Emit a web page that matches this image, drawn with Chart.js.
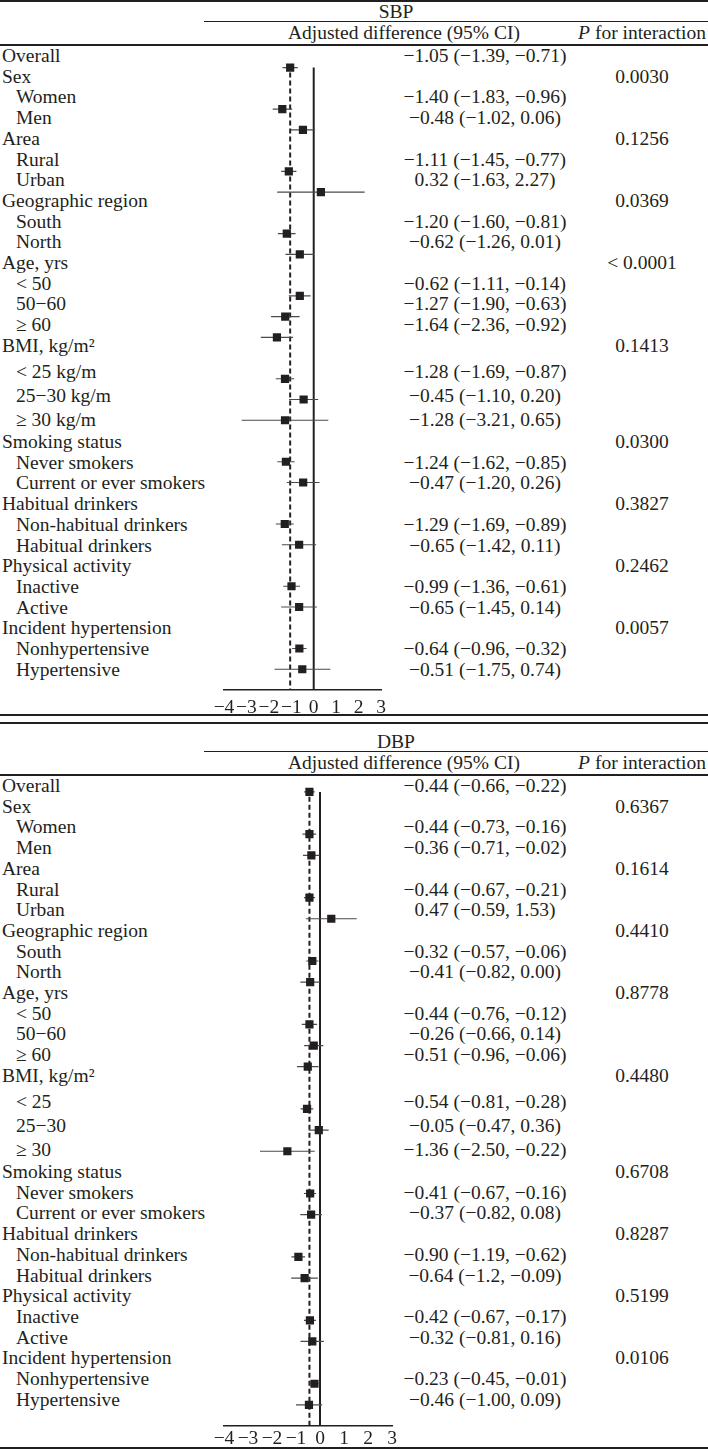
<!DOCTYPE html>
<html><head><meta charset="utf-8">
<script src="https://cdn.jsdelivr.net/npm/chart.js@4.4.1/dist/chart.umd.min.js"></script>
<style>
html,body{margin:0;padding:0;background:#fff;}
body{width:708px;height:1450px;position:relative;overflow:hidden;font-family:"Liberation Serif","Times New Roman",serif;color:#231f20;}
.t{position:absolute;font-size:19.5px;line-height:20px;white-space:nowrap;}
.hl{position:absolute;background:#231f20;}
canvas{position:absolute;}
</style></head><body>
<script>
// ---------- DATA ----------
const rowLevel = [0,0,1,1,0,1,1,0,1,1,0,1,1,1,0,1,1,1,0,1,1,0,1,1,0,1,1,0,1,1];
const sbpLabels = ["Overall","Sex","Women","Men","Area","Rural","Urban","Geographic region","South","North","Age, yrs","< 50","50\u221260","\u2265 60","BMI, kg/m\u00B2","< 25 kg/m","25\u221230 kg/m","\u2265 30 kg/m","Smoking status","Never smokers","Current or ever smokers","Habitual drinkers","Non-habitual drinkers","Habitual drinkers","Physical activity","Inactive","Active","Incident hypertension","Nonhypertensive","Hypertensive"];
const dbpLabels = ["Overall","Sex","Women","Men","Area","Rural","Urban","Geographic region","South","North","Age, yrs","< 50","50\u221260","\u2265 60","BMI, kg/m\u00B2","< 25","25\u221230","\u2265 30","Smoking status","Never smokers","Current or ever smokers","Habitual drinkers","Non-habitual drinkers","Habitual drinkers","Physical activity","Inactive","Active","Incident hypertension","Nonhypertensive","Hypertensive"];

const sbpEst  = [-1.05,null,-1.40,-0.48,null,-1.11,0.32,null,-1.20,-0.62,null,-0.62,-1.27,-1.64,null,-1.28,-0.45,-1.28,null,-1.24,-0.47,null,-1.29,-0.65,null,-0.99,-0.65,null,-0.64,-0.51];
const sbpLow  = [-1.39,null,-1.83,-1.02,null,-1.45,-1.63,null,-1.60,-1.26,null,-1.11,-1.90,-2.36,null,-1.69,-1.10,-3.21,null,-1.62,-1.20,null,-1.69,-1.42,null,-1.36,-1.45,null,-0.96,-1.75];
const sbpHigh = [-0.71,null,-0.96,0.06,null,-0.77,2.27,null,-0.81,0.01,null,-0.14,-0.63,-0.92,null,-0.87,0.20,0.65,null,-0.85,0.26,null,-0.89,0.11,null,-0.61,0.14,null,-0.32,0.74];
const sbpCIText = ["\u22121.05 (\u22121.39, \u22120.71)","","\u22121.40 (\u22121.83, \u22120.96)","\u22120.48 (\u22121.02, 0.06)","","\u22121.11 (\u22121.45, \u22120.77)","0.32 (\u22121.63, 2.27)","","\u22121.20 (\u22121.60, \u22120.81)","\u22120.62 (\u22121.26, 0.01)","","\u22120.62 (\u22121.11, \u22120.14)","\u22121.27 (\u22121.90, \u22120.63)","\u22121.64 (\u22122.36, \u22120.92)","","\u22121.28 (\u22121.69, \u22120.87)","\u22120.45 (\u22121.10, 0.20)","\u22121.28 (\u22123.21, 0.65)","","\u22121.24 (\u22121.62, \u22120.85)","\u22120.47 (\u22121.20, 0.26)","","\u22121.29 (\u22121.69, \u22120.89)","\u22120.65 (\u22121.42, 0.11)","","\u22120.99 (\u22121.36, \u22120.61)","\u22120.65 (\u22121.45, 0.14)","","\u22120.64 (\u22120.96, \u22120.32)","\u22120.51 (\u22121.75, 0.74)"];
const sbpP = ["","0.0030","","","0.1256","","","0.0369","","","< 0.0001","","","","0.1413","","","","0.0300","","","0.3827","","","0.2462","","","0.0057","",""];

const dbpEst  = [-0.44,null,-0.44,-0.36,null,-0.44,0.47,null,-0.32,-0.41,null,-0.44,-0.26,-0.51,null,-0.54,-0.05,-1.36,null,-0.41,-0.37,null,-0.90,-0.64,null,-0.42,-0.32,null,-0.23,-0.46];
const dbpLow  = [-0.66,null,-0.73,-0.71,null,-0.67,-0.59,null,-0.57,-0.82,null,-0.76,-0.66,-0.96,null,-0.81,-0.47,-2.50,null,-0.67,-0.82,null,-1.19,-1.2,null,-0.67,-0.81,null,-0.45,-1.00];
const dbpHigh = [-0.22,null,-0.16,-0.02,null,-0.21,1.53,null,-0.06,0.00,null,-0.12,0.14,-0.06,null,-0.28,0.36,-0.22,null,-0.16,0.08,null,-0.62,-0.09,null,-0.17,0.16,null,-0.01,0.09];
const dbpCIText = ["\u22120.44 (\u22120.66, \u22120.22)","","\u22120.44 (\u22120.73, \u22120.16)","\u22120.36 (\u22120.71, \u22120.02)","","\u22120.44 (\u22120.67, \u22120.21)","0.47 (\u22120.59, 1.53)","","\u22120.32 (\u22120.57, \u22120.06)","\u22120.41 (\u22120.82, 0.00)","","\u22120.44 (\u22120.76, \u22120.12)","\u22120.26 (\u22120.66, 0.14)","\u22120.51 (\u22120.96, \u22120.06)","","\u22120.54 (\u22120.81, \u22120.28)","\u22120.05 (\u22120.47, 0.36)","\u22121.36 (\u22122.50, \u22120.22)","","\u22120.41 (\u22120.67, \u22120.16)","\u22120.37 (\u22120.82, 0.08)","","\u22120.90 (\u22121.19, \u22120.62)","\u22120.64 (\u22121.2, \u22120.09)","","\u22120.42 (\u22120.67, \u22120.17)","\u22120.32 (\u22120.81, 0.16)","","\u22120.23 (\u22120.45, \u22120.01)","\u22120.46 (\u22121.00, 0.09)"];
const dbpP = ["","0.6367","","","0.1614","","","0.4410","","","0.8778","","","","0.4480","","","","0.6708","","","0.8287","","","0.5199","","","0.0106","",""];

const xTicks = [-4,-3,-2,-1,0,1,2,3];

// ---------- LAYOUT ----------
const INK = '#231f20';
const FONT = '"Liberation Serif", "Times New Roman", serif';

function addText(html, x, y, align) {
  const d = document.createElement('div');
  d.className = 't';
  d.innerHTML = html;
  d.style.top = (y - 10) + 'px';
  if (align === 'left') { d.style.left = x + 'px'; }
  else { d.style.left = (x - 200) + 'px'; d.style.width = '400px'; d.style.textAlign = 'center'; }
  document.body.appendChild(d);
}
function esc(s){ return s.replace(/&/g,'&amp;').replace(/</g,'&lt;').replace(/>/g,'&gt;'); }
function hline(x1, x2, y, w) {
  const d = document.createElement('div');
  d.className = 'hl';
  d.style.left = x1 + 'px'; d.style.width = (x2 - x1) + 'px';
  d.style.top = (y - w / 2) + 'px'; d.style.height = w + 'px';
  document.body.appendChild(d);
}
function textRowY(i) {
  // body rows ~20.7px apart; the BMI sub-rows are set a little looser
  const extra = i <= 14 ? 0 : (i === 15 ? 5.5 : (i === 16 ? 8.8 : (i === 17 ? 12 : 13.4)));
  return 56 + i * 20.7 + extra;
}

function panel(P) {
  const o = P.off;
  hline(0, 708, P.topLine, 2);
  addText(P.title, 396, o + 12, 'center');
  hline(204, 708, o + 21.5, 1.5);
  addText('Adjusted difference (95% CI)', 404, o + 33, 'center');
  addText('<i>P</i> for interaction', 642, o + 33, 'center');
  hline(0, 708, o + 45, 2);
  P.labels.forEach((lab, i) => {
    const y = o + textRowY(i);
    addText(esc(lab), rowLevel[i] ? 16 : 2, y, 'left');
    if (P.ci[i]) addText(esc(P.ci[i]), 485, y, 'center');
    if (P.p[i]) addText(esc(P.p[i]), 642, y, 'center');
  });
  hline(0, 708, P.bottomLine, 2);
  forest(P);
}

function forest(P) {
  const padX = 80, padTop = 2, axisH = 26, padBottom = 2;
  const plotH = 31 * P.step;             // y from -1 to 30 (row index)
  const cv = document.createElement('canvas');
  const W = (P.xRight - P.xLeft) + 2 * padX;
  const H = padTop + plotH + axisH + padBottom;
  cv.width = W; cv.height = H;
  cv.style.left = (P.xLeft - padX) + 'px';
  cv.style.top = (P.y0 - P.step - padTop) + 'px';
  cv.style.width = W + 'px'; cv.style.height = H + 'px';
  document.body.appendChild(cv);

  const rows = P.est.map((v, i) => i).filter(i => P.est[i] !== null);
  const ds = [];
  ds.push({ data: rows.map(i => ({ x: P.est[i], y: i })), pointStyle: 'rect', pointRadius: 5.8,
            pointBackgroundColor: INK, pointBorderWidth: 0, showLine: false, order: 0 });
  rows.forEach(i => ds.push({ data: [{ x: P.lo[i], y: i }, { x: P.hi[i], y: i }], showLine: true,
            borderColor: '#4a4a4a', borderWidth: 1.2, pointRadius: 0, order: 1 }));
  ds.push({ data: [{ x: P.est[0], y: -0.15 }, { x: P.est[0], y: 30 }], showLine: true, borderColor: INK,
            borderWidth: 2, borderDash: [5, 3], pointRadius: 0, order: 2 });
  ds.push({ data: [{ x: 0, y: 0 }, { x: 0, y: 30 }], showLine: true, borderColor: INK,
            borderWidth: 2, pointRadius: 0, order: 2 });

  new Chart(cv, {
    type: 'scatter',
    data: { datasets: ds },
    options: {
      responsive: false, animation: false, devicePixelRatio: 1,
      layout: { padding: { left: padX, right: padX, top: padTop, bottom: padBottom } },
      plugins: { legend: { display: false }, tooltip: { enabled: false } },
      scales: {
        x: {
          type: 'linear', min: -4, max: 3, position: 'bottom',
          afterBuildTicks: s => { s.ticks = xTicks.map(v => ({ value: v })); },
          afterFit: s => { s.height = axisH; },
          grid: { display: false, drawTicks: false },
          border: { display: true, color: INK, width: 1.5 },
          ticks: { autoSkip: false, maxRotation: 0, minRotation: 0, padding: P.tickPad, color: INK,
                   font: { family: FONT, size: 19.5 },
                   callback: v => (v < 0 ? '\u2212' + Math.abs(v) : String(v)) }
        },
        y: { type: 'linear', min: -1, max: 30, reverse: true, display: false }
      }
    }
  });
}

panel({ title: 'SBP', off: 0, topLine: 1, bottomLine: 715, labels: sbpLabels, ci: sbpCIText, p: sbpP,
        est: sbpEst, lo: sbpLow, hi: sbpHigh, y0: 63.5, step: 20.9, xLeft: 223.5, xRight: 381, tickPad: 6 });
panel({ title: 'DBP', off: 730, topLine: 723, bottomLine: 1448, labels: dbpLabels, ci: dbpCIText, p: dbpP,
        est: dbpEst, lo: dbpLow, hi: dbpHigh, y0: 788, step: 21.28, xLeft: 223.5, xRight: 391.5, tickPad: 1 });
</script>
</body></html>
